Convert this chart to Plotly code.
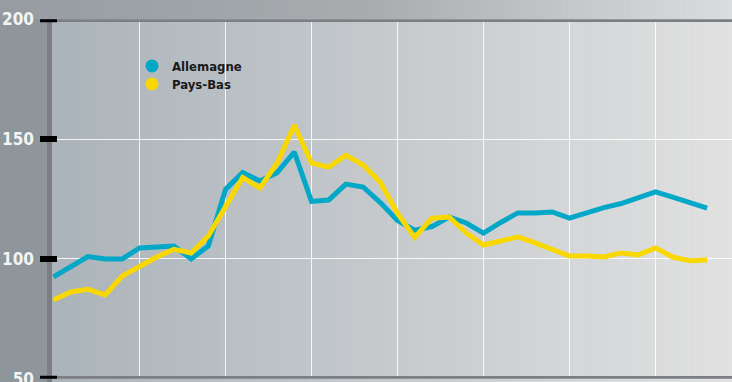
import plotly.graph_objects as go

# ---------------- data ----------------
periodes = list(range(39))
allemagne = [92.5, 96.5, 101, 100, 100, 104.6, 105, 105.4, 100, 105.4,
             129, 136, 132.5, 136, 144.6, 124, 124.6, 131.2, 130, 123.5,
             116, 112, 113.5, 117.5, 115, 110.8, 115.2, 119.2, 119.2, 119.6,
             117, 119.4, 121.4, 123.1, 125.4, 128, 125.8, 123.4, 121.2]
pays_bas = [82.9, 86.2, 87.3, 85, 92.9, 97, 100.8, 104, 102.5, 109.6,
            122, 134, 129.6, 140, 155.8, 140, 138.3, 143.3, 139.2, 132,
            119, 109, 117, 117.5, 110.8, 105.8, 107.5, 109.2, 106.7, 104,
            101.2, 101.2, 100.8, 102.5, 101.7, 104.6, 100.8, 99.2, 99.6]
y_ticks = [50, 100, 150, 200]
y_ticklabels = ["50", "100", "150", "200"]
x_grid = [5, 10, 15, 20, 25, 30, 35]
series_names = ["Allemagne", "Pays-Bas"]

# ---------------- style ----------------
W, H = 732, 382
BLUE = "#03a8c8"
YELLOW = "#f8d800"
BAR = "#7b7f83"


def xp(px):
    return px / W


def yp(py):
    return 1 - py / H


def lerp_color(stops, t):
    for (t0, c0), (t1, c1) in zip(stops[:-1], stops[1:]):
        if t0 <= t <= t1:
            f = (t - t0) / (t1 - t0) if t1 > t0 else 0
            c = [round(a + (b - a) * f) for a, b in zip(c0, c1)]
            return "rgb(%d,%d,%d)" % tuple(c)
    c = stops[-1][1]
    return "rgb(%d,%d,%d)" % tuple(c)


shapes = []
n = 120
# plot-area gradient
plot_stops = [(0, (171, 180, 186)), (0.5, (198, 202, 205)), (1, (225, 225, 225))]
x0p, x1p = 52, 732
for k in range(n):
    a = x0p + (x1p - x0p) * k / n
    b = x0p + (x1p - x0p) * (k + 1) / n + 0.6
    shapes.append(dict(type="rect", xref="paper", yref="paper",
                       x0=xp(a), x1=xp(min(b, W)), y0=yp(382), y1=yp(19),
                       fillcolor=lerp_color(plot_stops, k / (n - 1)),
                       line=dict(width=0), layer="below"))
# top band gradient
top_stops = [(0, (150, 156, 161)), (0.5, (168, 172, 175)), (1, (219, 220, 221))]
for k in range(n):
    a = W * k / n
    b = W * (k + 1) / n + 0.6
    shapes.append(dict(type="rect", xref="paper", yref="paper",
                       x0=xp(a), x1=xp(min(b, W)), y0=yp(19), y1=yp(0),
                       fillcolor=lerp_color(top_stops, k / (n - 1)),
                       line=dict(width=0), layer="below"))
# left margin (solid)
shapes.append(dict(type="rect", xref="paper", yref="paper",
                   x0=0, x1=xp(47), y0=0, y1=yp(19),
                   fillcolor="#8e959b", line=dict(width=0), layer="below"))

# axis bars
for v in (200, 50):
    shapes.append(dict(type="line", xref="paper", yref="y",
                       x0=xp(47), x1=1, y0=v, y1=v,
                       line=dict(color=BAR, width=5.5), layer="above"))
shapes.append(dict(type="line", xref="paper", yref="paper",
                   x0=xp(49.5), x1=xp(49.5), y0=0, y1=yp(19),
                   line=dict(color=BAR, width=5), layer="above"))
# black tick marks
for v in y_ticks:
    shapes.append(dict(type="line", xref="paper", yref="y",
                       x0=xp(40), x1=xp(57), y0=v, y1=v,
                       line=dict(color="#000000", width=6), layer="above"))

fig = go.Figure()
fig.add_trace(go.Scatter(x=periodes, y=allemagne, mode="lines",
                         line=dict(color=BLUE, width=5), showlegend=False))
fig.add_trace(go.Scatter(x=periodes, y=pays_bas, mode="lines",
                         line=dict(color=YELLOW, width=5), showlegend=False))
# legend entries (circle markers), one legend box per entry
for name, col, lg in zip(series_names, [BLUE, YELLOW], ["legend", "legend2"]):
    fig.add_trace(go.Scatter(x=[None], y=[None], mode="markers", name=name,
                             legend=lg, marker=dict(color=col, size=13)))

x_range = [(52 - 53.5) / 17.2, (732 - 53.5) / 17.2]

legend_font = dict(family="DejaVu Sans Condensed", size=13,
                   color="#1a1a1a", weight="bold")

fig.update_layout(
    width=W, height=H,
    margin=dict(l=0, r=0, t=0, b=0),
    paper_bgcolor="#8e959b",
    plot_bgcolor="rgba(0,0,0,0)",
    shapes=shapes,
    xaxis=dict(domain=[xp(52), 1], range=x_range, tickvals=x_grid,
               showticklabels=False, showgrid=True, automargin=False,
               gridcolor="rgba(255,255,255,0.85)", gridwidth=1,
               zeroline=False, showline=False, ticks=""),
    yaxis=dict(domain=[yp(378.8), yp(19.2)], range=[50, 200],
               tickvals=y_ticks, ticktext=y_ticklabels, automargin=False,
               ticklabeloverflow="allow",
               showgrid=True, gridcolor="rgba(255,255,255,0.85)", gridwidth=1,
               zeroline=False, showline=False, ticks="",
               ticklabelstandoff=17,
               tickfont=dict(family="DejaVu Sans Condensed",
                             size=17, color="#f4f4f4", weight="bold")),
    legend=dict(x=xp(132), y=yp(51), xanchor="left", yanchor="top",
                bgcolor="rgba(0,0,0,0)", borderwidth=0,
                font=legend_font, itemwidth=30),
    legend2=dict(x=xp(132), y=yp(69), xanchor="left", yanchor="top",
                 bgcolor="rgba(0,0,0,0)", borderwidth=0,
                 font=legend_font, itemwidth=30),
    showlegend=True,
)

fig.write_html("out.html")
